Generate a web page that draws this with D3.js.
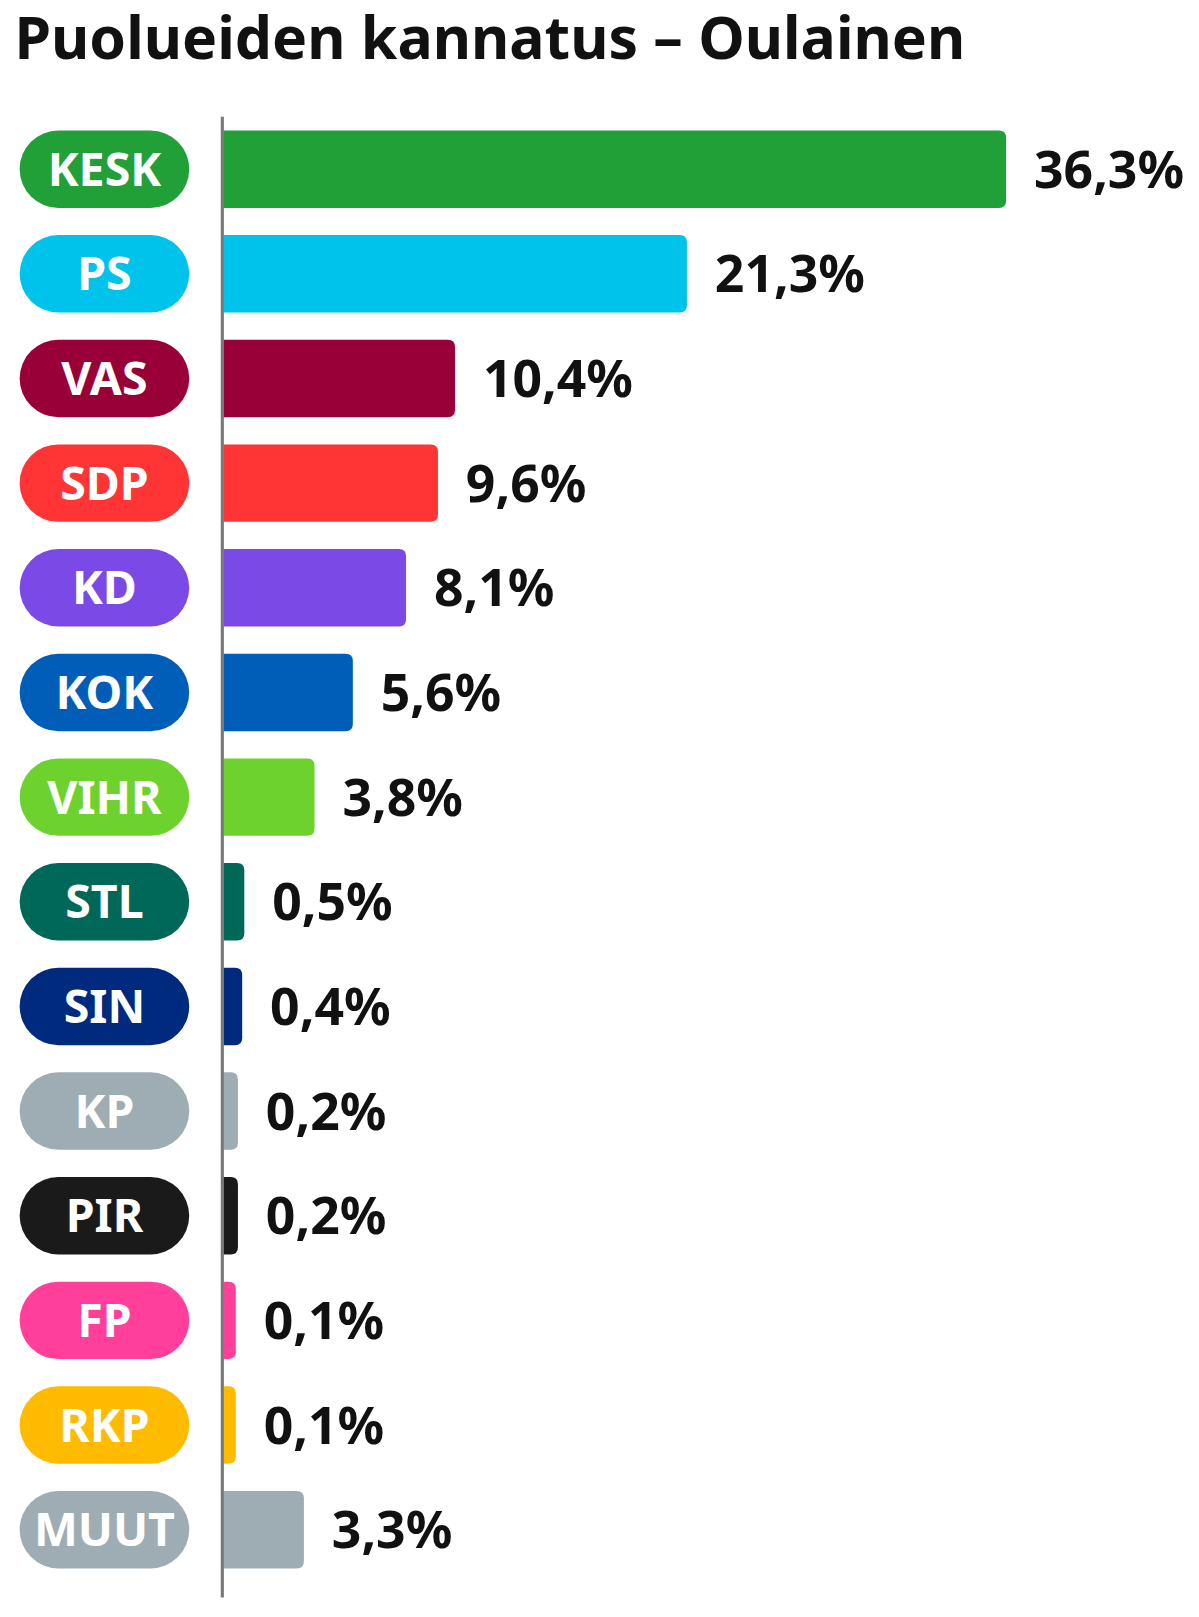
<!DOCTYPE html>
<html><head><meta charset="utf-8">
<script src="https://cdn.jsdelivr.net/npm/d3@7"></script>
<style>body{margin:0;background:#fff}svg{display:block}</style>
</head><body>
<svg width="1199" height="1617"></svg>
<script>
// party data
const parties = ["KESK","PS","VAS","SDP","KD","KOK","VIHR","STL","SIN","KP","PIR","FP","RKP","MUUT"]
const shares = [36.3,21.3,10.4,9.6,8.1,5.6,3.8,0.5,0.4,0.2,0.2,0.1,0.1,3.3]
const colors = ["#22a038","#00c3ec","#9a0038","#ff3535","#7b4ae6","#005eb8","#6ed22e","#006858","#002a7d","#9eacb3","#1a1a1a","#ff3f9a","#ffbb00","#9eacb3"]

const root = d3.select('svg')
const svg = root.append('g').attr('transform', 'scale(1.034)')
const font = "'Noto Sans', 'Open Sans', sans-serif"

svg.append('text').text('Puolueiden kannatus – Oulainen')
  .attr('x', 14).attr('y', 57)
  .attr('font-family', font).attr('font-weight', 700).attr('font-size', 57).attr('fill', '#111')

let y = d3.scaleBand().domain(parties).range([113, 1530]).paddingInner(0.26).paddingOuter(0.13)
// bars start at the axis plus a small minimum stub
let x = d3.scaleLinear().domain([0, 36.3]).range([226, 973])
const x0 = 216

let rows = svg.selectAll('g.row').data(parties).join('g').attr('class', 'row')
  .attr('transform', d => `translate(0,${y(d)})`)

const h = y.bandwidth()
rows.append('rect').attr('x', 19).attr('width', 164).attr('height', h)
  .attr('rx', h/2).attr('fill', (d, i) => colors[i])
rows.append('text').text(d => d).attr('x', 101).attr('y', h/2 + 16)
  .attr('text-anchor', 'middle').attr('font-family', font).attr('font-weight', 700)
  .attr('font-size', 45).attr('fill', '#fff')

rows.append('path').attr('fill', (d, i) => colors[i]).attr('d', (d, i) => {
  let x1 = x(shares[i]), r = 7
  return `M${x0},0H${x1-r}Q${x1},0 ${x1},${r}V${h-r}Q${x1},${h} ${x1-r},${h}H${x0}Z`
})
rows.append('text').text((d, i) => String(shares[i]).replace('.', ',') + '%')
  .attr('x', (d, i) => x(shares[i]) + 27).attr('y', h/2 + 18)
  .attr('font-family', font).attr('font-weight', 700).attr('font-size', 50).attr('fill', '#111')

svg.append('line').attr('x1', 215).attr('x2', 215).attr('y1', 113).attr('y2', 1545)
  .attr('stroke', '#777').attr('stroke-width', 3)
</script>
</body></html>
